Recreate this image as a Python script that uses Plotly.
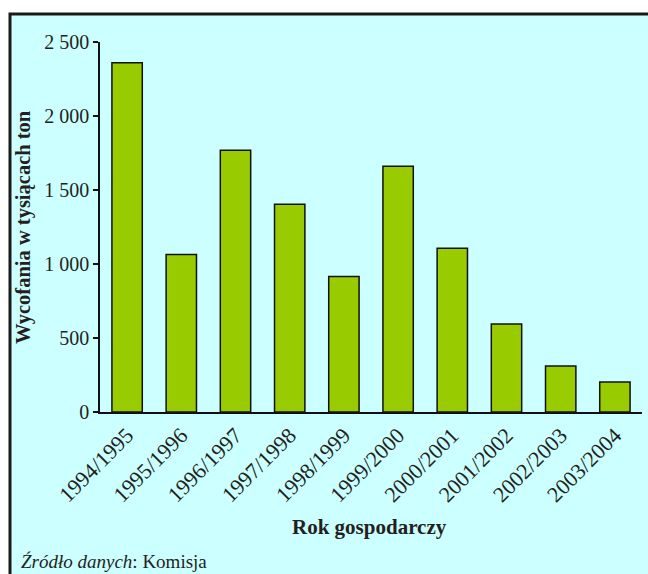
import plotly.graph_objects as go

seasons = ["1994/1995", "1995/1996", "1996/1997", "1997/1998", "1998/1999",
           "1999/2000", "2000/2001", "2001/2002", "2002/2003", "2003/2004"]
withdrawals = [2360, 1065, 1768, 1403, 916, 1660, 1106, 594, 310, 202]

y_tickvals = [0, 500, 1000, 1500, 2000, 2500]
y_ticktext = ["0", "500", "1 000", "1 500", "2 000", "2 500"]

W, H = 648, 574
L, R, T, B = 100, 6, 42, 162
pw, ph = W - L - R, H - T - B

def px_x(p):
    return (p - L) / pw

def px_y(p):
    return (H - B - p) / ph

FONT = "Liberation Serif"
TXT = "#231f20"

fig = go.Figure()
fig.add_trace(go.Bar(
    x=seasons, y=withdrawals,
    marker=dict(color="#99CC00", line=dict(color="#111111", width=1.5)),
    width=0.56,
))

fig.update_layout(
    width=W, height=H,
    margin=dict(l=L, r=R, t=T, b=B),
    paper_bgcolor="white",
    plot_bgcolor="rgba(0,0,0,0)",
    showlegend=False,
    font=dict(family=FONT, size=20, color=TXT),
    xaxis=dict(
        range=[-0.5, 9.5], showline=True, linecolor="#111111", linewidth=1.5,
        ticks="", tickangle=-45, showgrid=False, zeroline=False,
        tickfont=dict(family=FONT, size=22, color=TXT),
    ),
    yaxis=dict(
        range=[0, 2500], showline=True, linecolor="#111111", linewidth=1.5,
        ticks="outside", ticklen=5, tickwidth=1.5, tickcolor="#111111",
        tickvals=y_tickvals, ticktext=y_ticktext, showgrid=False, zeroline=False,
        tickfont=dict(family=FONT, size=20, color=TXT),
    ),
    shapes=[dict(
        type="rect", xref="paper", yref="paper", layer="below",
        x0=px_x(10), x1=px_x(660), y0=px_y(590), y1=px_y(14),
        fillcolor="#CCFFFF", line=dict(color="#1a1a1a", width=3),
    )],
    annotations=[
        dict(text="<b>Wycofania w tysiącach ton</b>", textangle=-90,
             xref="paper", yref="paper", x=px_x(23), y=px_y(227),
             xanchor="center", yanchor="middle", showarrow=False,
             font=dict(family=FONT, size=20.5, color=TXT)),
        dict(text="<b>Rok gospodarczy</b>",
             xref="paper", yref="paper", x=px_x(369), y=px_y(527),
             xanchor="center", yanchor="middle", showarrow=False,
             font=dict(family=FONT, size=21, color=TXT)),
        dict(text="<i>Źródło danych</i>: Komisja",
             xref="paper", yref="paper", x=px_x(19), y=px_y(561),
             xanchor="left", yanchor="middle", showarrow=False,
             font=dict(family=FONT, size=19, color=TXT)),
    ],
)

fig.write_html("out.html")
